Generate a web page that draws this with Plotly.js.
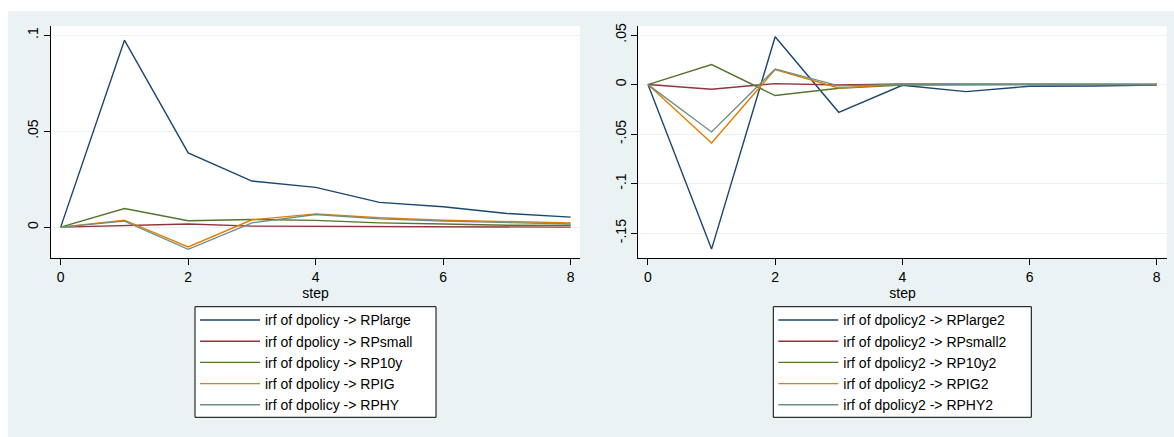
<!DOCTYPE html>
<html>
<head>
<meta charset="utf-8">
<script src="https://cdn.plot.ly/plotly-3.0.1.min.js"></script>
<style>html,body{margin:0;padding:0;background:#fff;}#chart{width:1174px;height:437px;}</style>
</head>
<body>
<div id="chart"></div>
<script>
// ---- data ----
const steps = [0, 1, 2, 3, 4, 5, 6, 7, 8];

const leftNames = ["irf of dpolicy -> RPlarge", "irf of dpolicy -> RPsmall", "irf of dpolicy -> RP10y", "irf of dpolicy -> RPIG", "irf of dpolicy -> RPHY"];
const RPlarge = [0, 0.0974, 0.0387, 0.0240, 0.0207, 0.0129, 0.0106, 0.0071, 0.0052];
const RPsmall = [0, 0.0009, 0.0016, 0.0005, 0.0004, 0.0002, 0.0001, 0.0000, 0.0000];
const RP10y   = [0, 0.0097, 0.0033, 0.0040, 0.0035, 0.0022, 0.0016, 0.0010, 0.0009];
const RPIG    = [0, 0.0036, -0.0103, 0.0038, 0.0069, 0.0049, 0.0036, 0.0028, 0.0022];
const RPHY    = [0, 0.0031, -0.0116, 0.0022, 0.0066, 0.0043, 0.0031, 0.0022, 0.0016];

const rightNames = ["irf of dpolicy2 -> RPlarge2", "irf of dpolicy2 -> RPsmall2", "irf of dpolicy2 -> RP10y2", "irf of dpolicy2 -> RPIG2", "irf of dpolicy2 -> RPHY2"];
const RPlarge2 = [0, -0.166, 0.0482, -0.0280, -0.0007, -0.0071, -0.0017, -0.0015, -0.0005];
const RPsmall2 = [0, -0.0047, 0.0010, -0.0005, 0.0005, 0.0002, 0.0001, 0.0000, 0.0000];
const RP10y2   = [0, 0.0202, -0.0111, -0.0037, -0.0005, 0.0001, 0.0000, 0.0000, 0.0000];
const RPIG2    = [0, -0.0589, 0.0152, -0.0034, 0.0003, 0.0001, 0.0000, 0.0000, 0.0000];
const RPHY2    = [0, -0.0478, 0.0158, -0.0013, 0.0000, 0.0001, 0.0000, 0.0000, 0.0000];

const xTickVals = [0, 2, 4, 6, 8];
const leftYTickVals = [0, 0.05, 0.1];
const leftYTickText = ["0", ".05", ".1"];
const rightYTickVals = [-0.15, -0.1, -0.05, 0, 0.05];
const rightYTickText = ["-.15", "-.1", "-.05", "0", ".05"];
const xTitle = "step";

// ---- style ----
const colors = ["#1a476f", "#90353b", "#55752f", "#e37e00", "#6e8e84"];
const W = 1174, H = 437;
const px = v => v / W;
const py = v => (H - v) / H;

const leftSeries = [RPlarge, RPsmall, RP10y, RPIG, RPHY];
const rightSeries = [RPlarge2, RPsmall2, RP10y2, RPIG2, RPHY2];

const traces = [];
leftSeries.forEach((s, i) => traces.push({
  x: steps, y: s, type: "scatter", mode: "lines", name: leftNames[i],
  line: {color: colors[i], width: 1.4}, xaxis: "x", yaxis: "y", legend: "legend"
}));
rightSeries.forEach((s, i) => traces.push({
  x: steps, y: s, type: "scatter", mode: "lines", name: rightNames[i],
  line: {color: colors[i], width: 1.4}, xaxis: "x2", yaxis: "y2", legend: "legend2"
}));

const font = {family: "Liberation Sans, Arial, sans-serif", size: 14, color: "#000"};
const gridc = "#eaf2f3";

const axCommon = {
  showline: true, linecolor: "#000", linewidth: 1, ticks: "outside", ticklen: 6,
  tickcolor: "#000", tickwidth: 1, zeroline: false, tickfont: font
};

const legendCommon = {
  bgcolor: "rgba(0,0,0,0)", borderwidth: 0, font: font,
  xanchor: "left", yanchor: "top", itemwidth: 60, traceorder: "normal",
  tracegroupgap: 0
};

const layout = {
  width: W, height: H,
  margin: {l: 0, r: 0, t: 0, b: 0, pad: 0},
  paper_bgcolor: "#eaf2f3",
  plot_bgcolor: "#ffffff",
  font: font,
  showlegend: true,
  xaxis: Object.assign({}, axCommon, {
    domain: [px(51), px(580)], range: [-0.152, 8.146], tickvals: xTickVals, showgrid: false,
    anchor: "y", title: {text: xTitle, font: font, standoff: 2}
  }),
  yaxis: Object.assign({}, axCommon, {
    domain: [py(258), py(26)], range: [-0.0161, 0.1048], tickvals: leftYTickVals,
    ticktext: leftYTickText, tickangle: -90, showgrid: true, gridcolor: gridc, gridwidth: 1,
    anchor: "x"
  }),
  xaxis2: Object.assign({}, axCommon, {
    domain: [px(638.3), px(1166.7)], range: [-0.152, 8.157], tickvals: xTickVals, showgrid: false,
    anchor: "y2", title: {text: xTitle, font: font, standoff: 2}
  }),
  yaxis2: Object.assign({}, axCommon, {
    domain: [py(258), py(26)], range: [-0.175, 0.0591], tickvals: rightYTickVals,
    ticktext: rightYTickText, tickangle: -90, showgrid: true, gridcolor: gridc, gridwidth: 1,
    anchor: "x2"
  }),
  legend: Object.assign({}, legendCommon, {x: px(195), y: py(304.4)}),
  legend2: Object.assign({}, legendCommon, {x: px(773.3), y: py(304.4)}),
  shapes: [
    {type: "rect", xref: "paper", yref: "paper", x0: 0, x1: 1, y0: py(11), y1: 1,
     fillcolor: "#ffffff", line: {width: 0}, layer: "above"},
    {type: "rect", xref: "paper", yref: "paper", x0: 0, x1: px(8), y0: 0, y1: 1,
     fillcolor: "#ffffff", line: {width: 0}, layer: "above"},
    {type: "rect", xref: "paper", yref: "paper", x0: px(195), x1: px(436), y0: py(417.3), y1: py(306.7),
     fillcolor: "#ffffff", line: {color: "#000", width: 1}, layer: "above"},
    {type: "rect", xref: "paper", yref: "paper", x0: px(773.3), x1: px(1031.3), y0: py(417.3), y1: py(306.7),
     fillcolor: "#ffffff", line: {color: "#000", width: 1}, layer: "above"}
  ]
};

Plotly.newPlot("chart", traces, layout, {staticPlot: true, displayModeBar: false});
</script>
</body>
</html>
